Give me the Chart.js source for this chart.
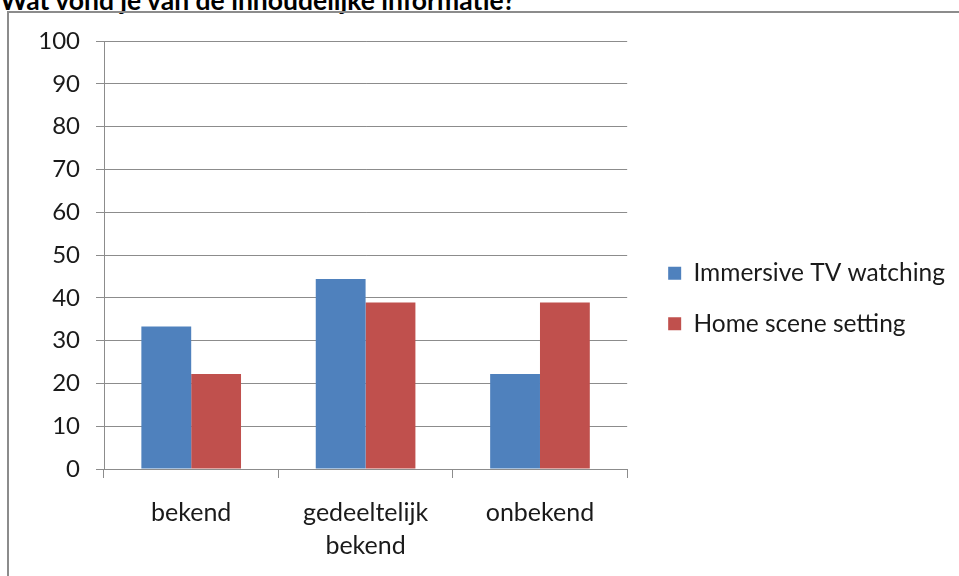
<!DOCTYPE html>
<html>
<head>
<meta charset="utf-8">
<script src="https://cdn.jsdelivr.net/npm/chart.js@4.4.0/dist/chart.umd.min.js"></script>
<style>
  html, body { margin: 0; padding: 0; background: #fff; overflow: hidden; }
  body { width: 959px; height: 576px; position: relative; }
  #title { position: absolute; left: 0; top: -16px; font: bold 26.5px Lato, sans-serif; white-space: nowrap; color: #000; }
  #frame { position: absolute; left: 7px; top: 11px; width: 1000px; height: 700px; border: 2px solid #8c8c8c; }
  #wrap { position: absolute; left: 0; top: 0; width: 959px; height: 576px; }
</style>
</head>
<body>
<div id="title">Wat vond je van de inhoudelijke informatie?</div>
<div id="frame"></div>
<div id="wrap"><canvas id="chart"></canvas></div>
<script>
// data
const categories = ['bekend', ['gedeeltelijk', 'bekend'], 'onbekend'];
const seriesNames = ['Immersive TV watching', 'Home scene setting'];
const immersiveValues = [33.3, 44.4, 22.2];
const homeSceneValues = [22.2, 38.9, 38.9];
const yMin = 0;
const yMax = 100;
const yStep = 10;

const textColor = '#1a1a1a';
const lineColor = '#8c8c8c';

const ctx = document.getElementById('chart').getContext('2d');

new Chart(ctx, {
    type: 'bar',
    data: {
        labels: categories,
        datasets: [
            {
                label: seriesNames[0],
                data: immersiveValues,
                backgroundColor: '#4f81bd'
            },
            {
                label: seriesNames[1],
                data: homeSceneValues,
                backgroundColor: '#c0504d'
            }
        ]
    },
    options: {
        responsive: true,
        maintainAspectRatio: false,
        animation: false,
        devicePixelRatio: 1,
        categoryPercentage: 2 / 3.5,
        barPercentage: 1,
        layout: {
            padding: { top: 41, left: 0, right: 4, bottom: 20 }
        },
        scales: {
            x: {
                grid: {
                    display: true,
                    drawOnChartArea: false,
                    drawTicks: true,
                    tickLength: 9,
                    color: lineColor
                },
                border: { color: lineColor },
                ticks: {
                    color: textColor,
                    font: { family: 'Lato', size: 25, lineHeight: 1.32 },
                    padding: 18,
                    maxRotation: 0,
                    autoSkip: false
                },
                afterFit: (scale) => { scale.height = 87; }
            },
            y: {
                min: yMin,
                max: yMax,
                grid: {
                    color: lineColor,
                    tickLength: 8
                },
                border: { color: lineColor },
                ticks: {
                    stepSize: yStep,
                    color: textColor,
                    font: { family: 'Lato', size: 24 },
                    padding: 16
                },
                afterFit: (scale) => { scale.width = 104; }
            },
            gap: {
                position: 'right',
                display: true,
                grid: { display: false },
                border: { display: false },
                ticks: { display: false },
                afterFit: (scale) => { scale.width = 15; }
            }
        },
        plugins: {
            legend: {
                position: 'right',
                maxWidth: 400,
                labels: {
                    color: textColor,
                    font: { family: 'Lato', size: 24.5 },
                    boxWidth: 13,
                    boxHeight: 13,
                    padding: 26
                }
            },
            tooltip: { enabled: false }
        }
    }
});
</script>
</body>
</html>
